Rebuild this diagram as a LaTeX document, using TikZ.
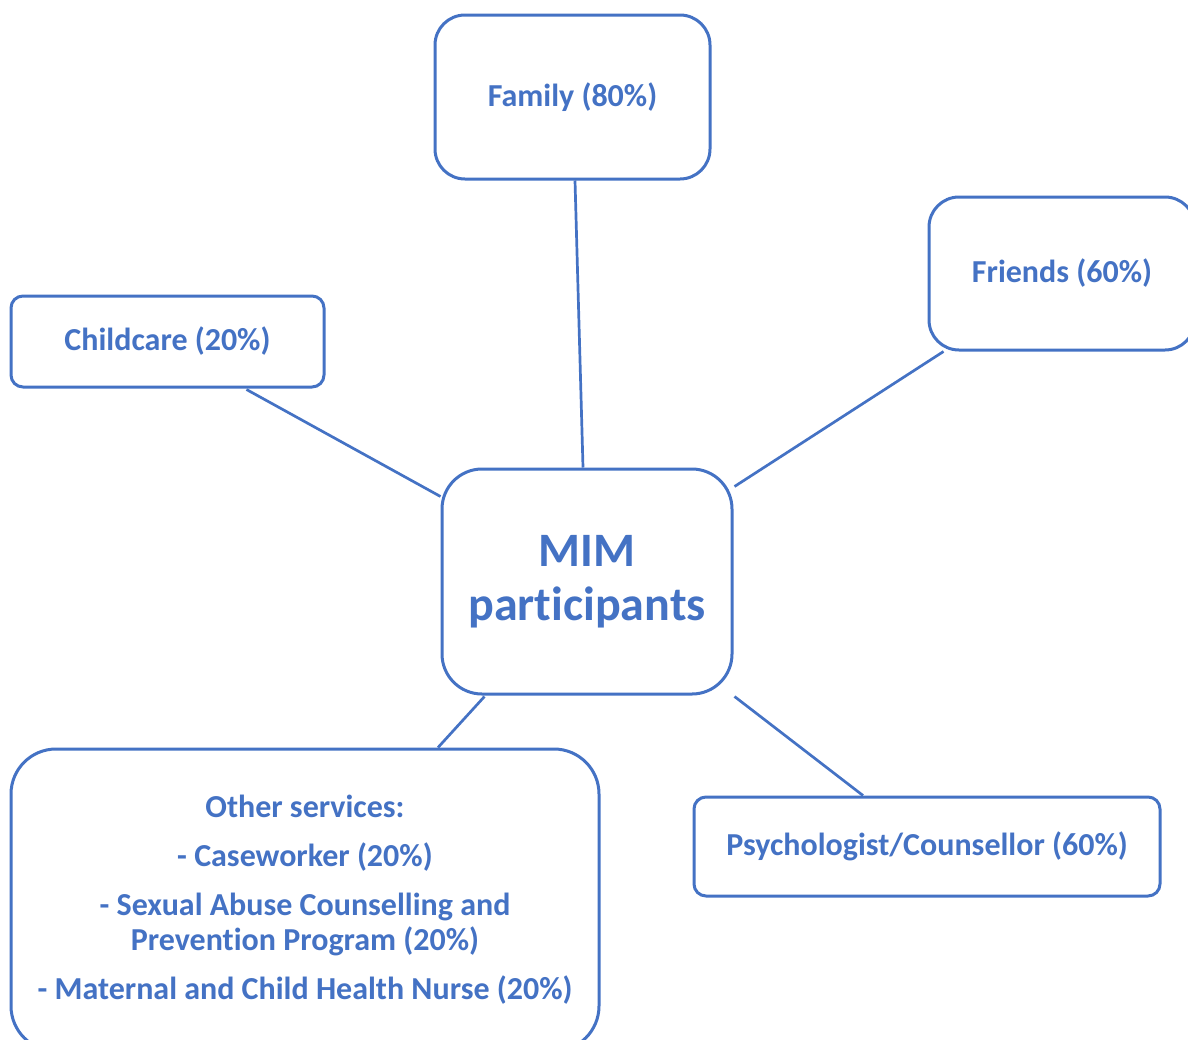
\documentclass[tikz,border=0pt]{standalone}
\usepackage{fontspec}
\setmainfont[Ligatures={NoCommon}]{Carlito}
\usetikzlibrary{calc}
\definecolor{mblue}{HTML}{4472C4}
\begin{document}
\begin{tikzpicture}[x=1pt,y=-1pt,
  box/.style={draw=mblue,line width=3pt,fill=white,inner sep=0pt,align=center,text=mblue,font=\bfseries\fontsize{32}{38}\selectfont},
  link/.style={draw=mblue,line width=2.7pt}]
\useasboundingbox (0,0) rectangle (1188,1039);
\node[box,rounded corners=30pt,minimum width=275pt,minimum height=164pt] (fam) at (572.5,97) {Family (80\%)};
\node[box,rounded corners=30pt,minimum width=266pt,minimum height=153pt] (fr) at (1062,273.5) {Friends (60\%)};
\node[box,rounded corners=12pt,minimum width=313pt,minimum height=91pt] (cc) at (167.5,341.5) {Childcare (20\%)};
\node[box,rounded corners=40pt,minimum width=290pt,minimum height=225pt,font=\bfseries\fontsize{48}{54}\selectfont] (mim) at (587,581.5) {\raisebox{-3pt}{MIM}\\\raisebox{-3pt}{participants}};
\node[box,rounded corners=12pt,minimum width=466pt,minimum height=99pt] (ps) at (927,846.5) {Psychologist/Counsellor (60\%)};
\node[box,rounded corners=45pt,minimum width=588pt,minimum height=302pt,font=\bfseries\fontsize{32}{35}\selectfont] (os) at (305,900) {Other services:\\[14pt]- Caseworker (20\%)\\[14pt]- Sexual Abuse Counselling and\\Prevention Program (20\%)\\[14pt]- Maternal and Child Health Nurse (20\%)};
\draw[link] ($(fam.south)+(2.5,0)$) -- ($(mim.north)+(-4,0)$);
\draw[link] ($(fr.south west)+(16,0)$) -- ($(mim.north east)+(1,19)$);
\draw[link] ($(cc.south west)+(237,1)$) -- ($(mim.north west)+(0,29)$);
\draw[link] ($(mim.south west)+(44,1)$) -- ($(os.north)+(133,0)$);
\draw[link] ($(mim.south east)+(1,1)$) -- ($(ps.north)+(-64,0)$);
\end{tikzpicture}
\end{document}
